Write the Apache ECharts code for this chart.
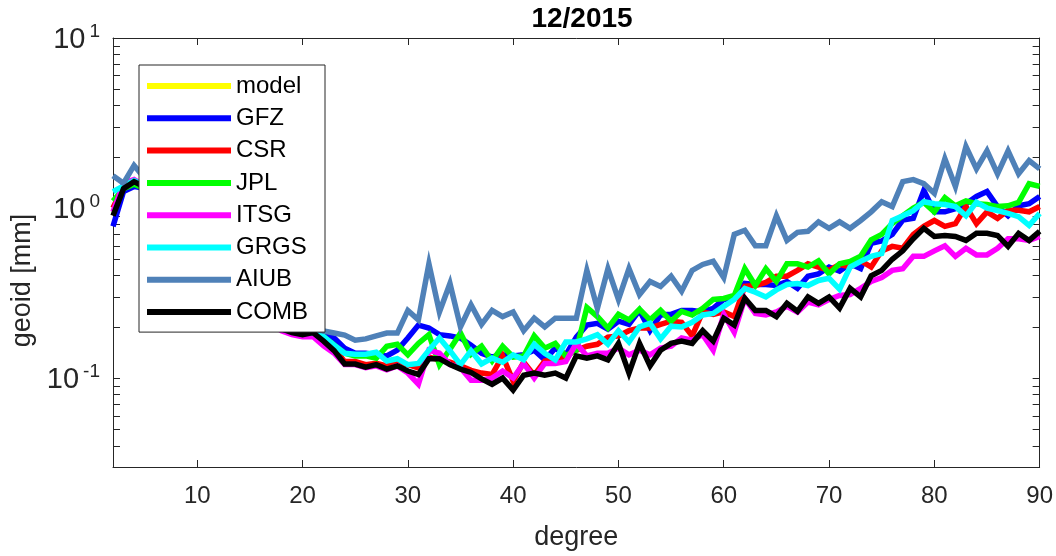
<!DOCTYPE html>
<html>
<head>
<meta charset="utf-8">
<script src="https://cdn.jsdelivr.net/npm/echarts@6/dist/echarts.min.js"></script>
<style>
html,body{margin:0;padding:0;background:#fff;}
#chart{width:1056px;height:556px;}
</style>
</head>
<body>
<div id="chart"></div>
<script>
// spherical harmonic degrees 2..90
const degrees = Array.from({length: 89}, (_, i) => i + 2);

const xTickValues = [10, 20, 30, 40, 50, 60, 70, 80, 90];
const yLabelValues = [0.1, 1, 10];
const yTickValues = [0.03,0.04,0.05,0.06,0.07,0.08,0.09,0.1,0.2,0.3,0.4,0.5,0.6,0.7,0.8,0.9,1,2,3,4,5,6,7,8,9,10];

const seriesNames = ['model','GFZ','CSR','JPL','ITSG','GRGS','AIUB','COMB'];
const seriesColors = ['#ffff00','#0000ff','#ff0000','#00ff00','#ff00ff','#00ffff','#4f81b8','#000000'];

// model curve is not visible in the plot
const model = [];

const GFZ = [0.78,1.25,1.34,1.3,1.15,1.0,0.86,0.74,0.63,0.54,0.46,0.4,0.34,0.29,0.25,0.22,0.2,0.19,0.185,0.185,
0.18,0.172,0.15,0.14,0.14,0.137,0.135,0.146,0.172,0.205,
0.197,0.18,0.177,0.172,0.156,0.14,0.133,0.137,0.135,0.137,
0.146,0.128,0.15,0.137,0.174,0.205,0.21,0.194,0.216,0.207,
0.25,0.19,0.235,0.237,0.25,0.25,0.245,0.257,0.29,0.294,
0.36,0.355,0.355,0.35,0.37,0.337,0.397,0.41,0.45,0.425,
0.47,0.44,0.62,0.64,0.70,0.85,0.87,1.27,0.95,0.95,
0.99,1.06,1.17,1.25,1.02,0.90,1.03,1.06,1.17];

const CSR = [1.0,1.35,1.4,1.32,1.15,0.98,0.84,0.72,0.61,0.52,0.45,0.38,0.33,0.28,0.245,0.215,0.195,0.185,0.18,0.18,
0.17,0.15,0.125,0.125,0.12,0.122,0.118,0.122,0.12,0.115,
0.133,0.128,0.124,0.118,0.111,0.107,0.105,0.135,0.096,0.124,
0.104,0.126,0.128,0.135,0.146,0.154,0.158,0.174,0.177,0.19,
0.197,0.197,0.207,0.216,0.213,0.177,0.245,0.237,0.245,0.23,
0.346,0.35,0.365,0.397,0.397,0.43,0.47,0.45,0.43,0.466,
0.45,0.49,0.45,0.56,0.595,0.58,0.70,0.78,0.845,0.78,
0.81,1.02,0.81,0.95,0.87,0.97,0.97,0.95,1.02];

const JPL = [1.1,1.3,1.38,1.3,1.15,1.0,0.86,0.74,0.63,0.54,0.46,0.4,0.34,0.29,0.25,0.22,0.2,0.19,0.185,0.185,
0.175,0.156,0.14,0.135,0.135,0.131,0.154,0.158,0.137,0.16,
0.18,0.12,0.148,0.184,0.138,0.154,0.126,0.154,0.133,0.135,
0.177,0.15,0.16,0.135,0.146,0.26,0.23,0.197,0.237,0.22,
0.254,0.22,0.25,0.216,0.247,0.235,0.257,0.29,0.294,0.306,
0.44,0.35,0.44,0.37,0.47,0.47,0.45,0.49,0.41,0.47,
0.485,0.52,0.65,0.70,0.81,0.90,1.0,1.08,0.95,1.15,
1.03,1.10,1.06,1.05,1.02,1.03,1.08,1.39,1.34];

const ITSG = [0.95,1.4,1.47,1.35,1.18,1.0,0.86,0.73,0.62,0.53,0.45,0.38,0.32,0.28,0.24,0.21,0.19,0.18,0.175,0.175,
0.155,0.14,0.12,0.12,0.115,0.118,0.112,0.118,0.107,0.092,
0.146,0.14,0.12,0.115,0.097,0.097,0.10,0.11,0.10,0.122,
0.10,0.122,0.122,0.125,0.16,0.135,0.14,0.14,0.15,0.137,
0.146,0.137,0.15,0.154,0.172,0.167,0.18,0.146,0.237,0.186,
0.294,0.24,0.235,0.245,0.264,0.244,0.28,0.27,0.29,0.306,
0.31,0.337,0.37,0.39,0.43,0.44,0.52,0.52,0.56,0.60,
0.52,0.58,0.53,0.53,0.58,0.66,0.66,0.645,0.68];

const GRGS = [1.25,1.35,1.45,1.35,1.18,1.02,0.87,0.75,0.64,0.55,0.47,0.4,0.34,0.29,0.25,0.22,0.2,0.19,0.185,0.185,
0.175,0.156,0.14,0.138,0.138,0.142,0.126,0.13,0.12,0.122,
0.146,0.172,0.145,0.12,0.145,0.121,0.131,0.124,0.137,0.128,
0.158,0.14,0.128,0.163,0.163,0.17,0.18,0.158,0.19,0.163,
0.2,0.21,0.17,0.202,0.2,0.213,0.235,0.24,0.264,0.29,
0.337,0.32,0.30,0.33,0.355,0.36,0.35,0.375,0.386,0.333,
0.45,0.486,0.52,0.54,0.845,0.90,0.965,1.09,1.06,1.05,
1.02,0.90,1.08,1.0,0.965,0.93,0.89,0.79,0.93];

const AIUB = [1.55,1.4,1.78,1.5,1.3,1.12,0.96,0.82,0.7,0.6,0.51,0.44,0.38,0.33,0.28,0.25,0.22,0.205,0.2,0.195,
0.189,0.184,0.179,0.167,0.17,0.177,0.184,0.184,0.25,0.22,
0.47,0.245,0.36,0.20,0.27,0.207,0.25,0.23,0.245,0.19,
0.225,0.20,0.225,0.225,0.225,0.43,0.257,0.44,0.29,0.44,
0.31,0.37,0.346,0.397,0.324,0.43,0.466,0.486,0.39,0.70,
0.74,0.60,0.60,0.90,0.645,0.72,0.73,0.83,0.76,0.83,
0.76,0.845,0.95,1.09,1.02,1.43,1.47,1.39,1.22,1.95,
1.34,2.30,1.70,2.17,1.59,2.17,1.59,1.90,1.70];

const COMB = [0.9,1.3,1.43,1.33,1.16,0.99,0.85,0.72,0.61,0.52,0.45,0.38,0.33,0.28,0.245,0.215,0.195,0.185,0.18,0.185,
0.165,0.145,0.121,0.121,0.116,0.12,0.113,0.118,0.11,0.105,
0.13,0.13,0.12,0.113,0.108,0.099,0.092,0.10,0.085,0.104,
0.107,0.104,0.107,0.10,0.135,0.131,0.135,0.128,0.16,0.107,
0.16,0.118,0.146,0.16,0.165,0.16,0.19,0.165,0.225,0.205,
0.295,0.25,0.25,0.23,0.275,0.247,0.30,0.275,0.30,0.258,
0.337,0.30,0.40,0.43,0.50,0.56,0.66,0.76,0.68,0.69,
0.68,0.645,0.71,0.71,0.69,0.595,0.71,0.645,0.73];

const seriesValues = [model, GFZ, CSR, JPL, ITSG, GRGS, AIUB, COMB];

const FONT = "'Liberation Sans', Arial, Helvetica, sans-serif";
const AX = '#262626';

function supLabel(v) {
  const e = Math.round(Math.log10(v));
  return '{b|10}{e|' + (e < 0 ? '-' + (-e) : e) + '}';
}

const chart = echarts.init(document.getElementById('chart'), null, {renderer: 'canvas'});

const series = seriesNames.map((name, k) => ({
  name: name,
  type: 'line',
  xAxisIndex: 0,
  yAxisIndex: 0,
  showSymbol: false,
  symbol: 'none',
  animation: false,
  lineStyle: {color: seriesColors[k], width: 5.5, join: 'miter'},
  itemStyle: {color: seriesColors[k]},
  data: seriesValues[k].map((v, i) => [degrees[i], v])
}));

const axisCommon = {
  axisLine: {show: true, onZero: false, lineStyle: {color: AX, width: 1}},
  splitLine: {show: false}
};

chart.setOption({
  animation: false,
  backgroundColor: '#ffffff',
  title: {
    text: '12/2015',
    left: 577, top: 0, textAlign: 'center',
    textStyle: {fontFamily: FONT, fontSize: 28, fontWeight: 'bold', color: '#000'}
  },
  grid: {left: 113, right: 15, top: 38, bottom: 89, containLabel: false},
  legend: {
    data: seriesNames,
    orient: 'vertical',
    left: 139, top: 65,
    icon: 'rect',
    itemWidth: 84, itemHeight: 6, itemGap: 8.3,
    padding: [9, 17, 8, 8],
    backgroundColor: '#ffffff',
    borderColor: AX, borderWidth: 1,
    selectedMode: false,
    textStyle: {fontFamily: FONT, fontSize: 24, color: '#000', lineHeight: 24}
  },
  xAxis: [
    Object.assign({}, axisCommon, {
      type: 'value', min: 2, max: 90, position: 'bottom',
      axisTick: {show: true, inside: true, length: 7, customValues: xTickValues, lineStyle: {color: AX}},
      axisLabel: {customValues: xTickValues, fontFamily: FONT, fontSize: 24, color: AX, margin: 17},
      name: 'degree', nameLocation: 'middle', nameGap: 57,
      nameTextStyle: {fontFamily: FONT, fontSize: 27, color: AX}
    }),
    Object.assign({}, axisCommon, {
      type: 'value', min: 2, max: 90, position: 'top',
      axisTick: {show: true, inside: true, length: 7, customValues: xTickValues, lineStyle: {color: AX}},
      axisLabel: {show: false}
    })
  ],
  yAxis: [
    Object.assign({}, axisCommon, {
      type: 'log', logBase: 10, min: 0.03, max: 10, position: 'left',
      axisTick: {show: true, inside: true, length: 7, customValues: yTickValues, lineStyle: {color: AX}},
      axisLabel: {
        customValues: yLabelValues, margin: 13, formatter: supLabel,
        rich: {
          b: {fontFamily: FONT, fontSize: 29, color: AX, verticalAlign: 'bottom', padding: [0, 4, 0, 0]},
          e: {fontFamily: FONT, fontSize: 19, color: AX, verticalAlign: 'bottom', padding: [0, 0, 13, 0]}
        }
      },
      name: 'geoid [mm]', nameLocation: 'middle', nameGap: 75, nameRotate: 90,
      nameTextStyle: {fontFamily: FONT, fontSize: 27, color: AX, padding: [0, 56, 0, 0]}
    }),
    Object.assign({}, axisCommon, {
      type: 'log', logBase: 10, min: 0.03, max: 10, position: 'right',
      axisTick: {show: true, inside: true, length: 7, customValues: yTickValues, lineStyle: {color: AX}},
      axisLabel: {show: false}
    })
  ],
  series: series
});
</script>
</body>
</html>
